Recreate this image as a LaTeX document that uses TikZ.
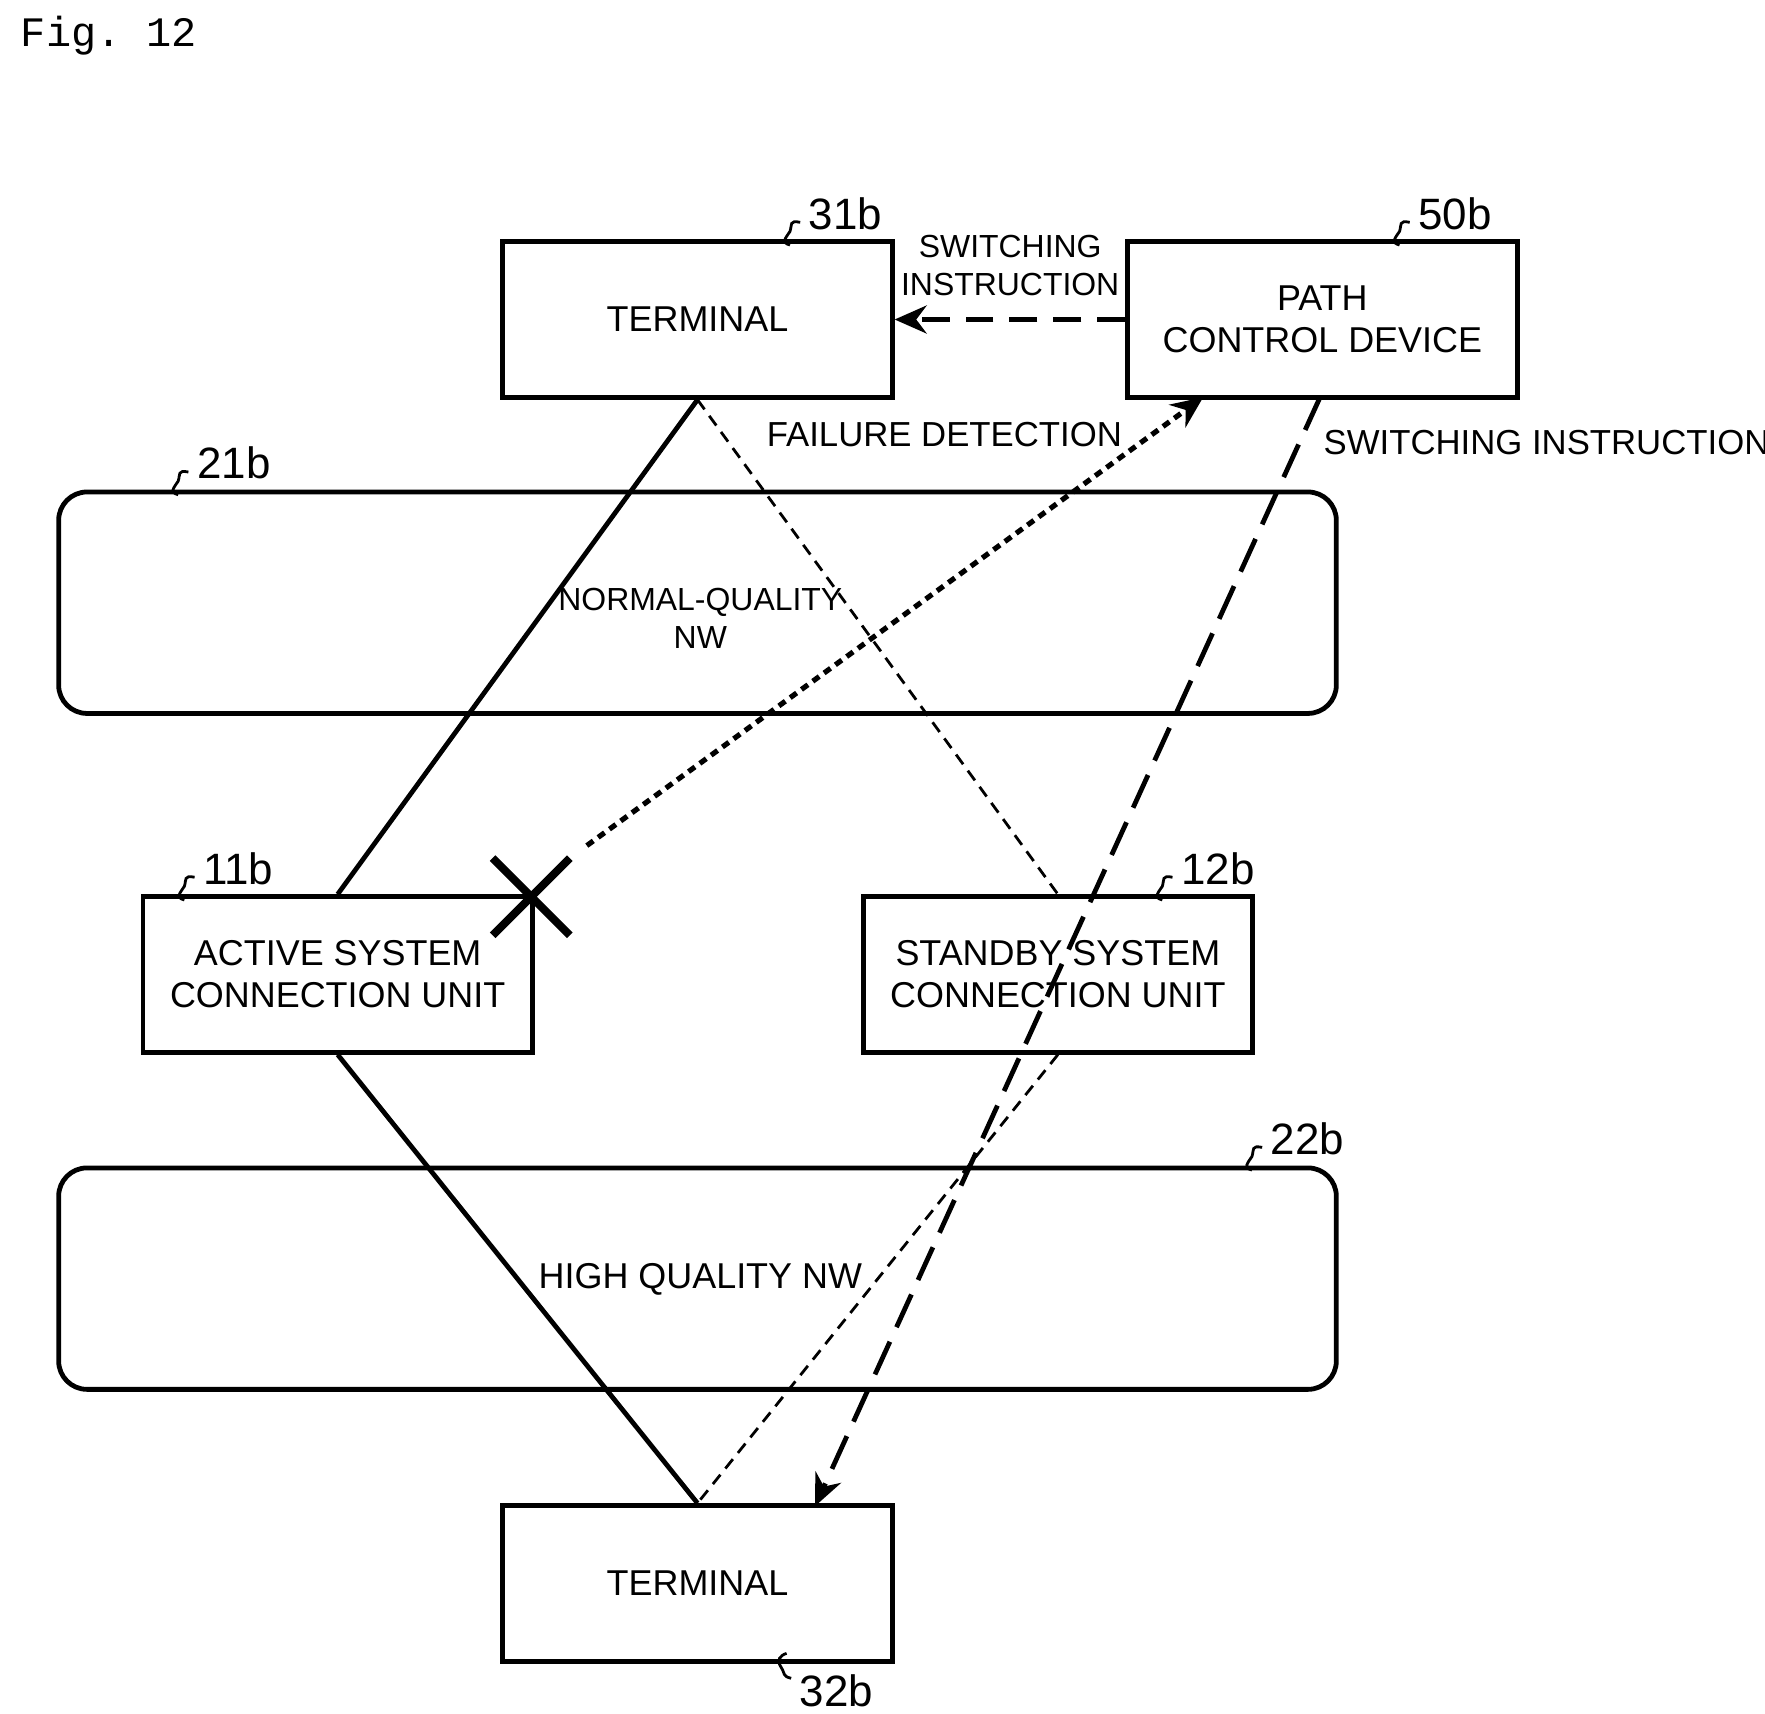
\documentclass[tikz,border=0pt]{standalone}
\usepackage{fontspec}
\setmainfont{Liberation Sans}
\setmonofont{Liberation Mono}
\usetikzlibrary{positioning}
\usetikzlibrary{arrows.meta}
\tikzset{
  box/.style={draw, line width=1.2pt, minimum width=3.43cm, minimum height=1.37cm,
    align=center, font=\fontsize{9}{10.5}\selectfont},
  nw/.style={draw, line width=1.2pt, rounded corners=0.25cm, minimum width=11.25cm,
    minimum height=1.95cm},
  ref/.style={font=\fontsize{11}{12}\selectfont, inner sep=1pt},
  lbl/.style={font=\fontsize{8}{9.5}\selectfont, align=center, inner sep=1pt},
}
\newcommand{\refmark}[1]{% squiggle before a reference label
  \draw[line width=0.7pt] ([xshift=-1pt,yshift=3pt]#1.south west)
    .. controls +(-10,-2) and +(2,-6) .. +(-9,8)
    .. controls +(-4,6) and +(-8,-2) .. +(-9,20);}
\begin{document}
\begin{tikzpicture}[x=0.01cm, y=-0.01cm]
  \useasboundingbox (0,0) rectangle (1555,1510);

  \node[anchor=north west, font=\ttfamily\fontsize{10.5}{12}\selectfont] (fig) at (6,2) {Fig. 12};

  % Define nodes
  \node[box] (term1) at (614.5,281.5) {TERMINAL};
  \node[box] (pcd) at (1165,281.5) {PATH\\CONTROL DEVICE};
  \node[nw] (nw21) at (614.5,531) {};
  \node[lbl] (nw21txt) at (617,545) {NORMAL-QUALITY\\NW};
  \node[box] (act) at (297.5,858.5) {ACTIVE SYSTEM\\CONNECTION UNIT};
  \node[box] (stby) at (932,858.5) {STANDBY SYSTEM\\CONNECTION UNIT};
  \node[nw] (nw22) at (614.5,1126.5) {};
  \node[lbl, font=\fontsize{9}{10.5}\selectfont] (nw22txt) at (617,1127) {HIGH QUALITY NW};
  \node[box] (term2) at (614.5,1395) {TERMINAL};

  % Reference labels
  \node[ref] (r31b) at (745,188) {31b};
  \node[ref] (r50b) at (1282,188) {50b};
  \node[ref] (r21b) at (206,408) {21b};
  \node[ref] (r11b) at (210,765) {11b};
  \node[ref] (r12b) at (1073,765) {12b};
  \node[ref] (r22b) at (1152,1003) {22b};
  \node[ref] (r32b) at (737,1490) {32b};
  \refmark{r31b}
  \refmark{r50b}
  \refmark{r21b}
  \refmark{r11b}
  \refmark{r12b}
  \refmark{r22b}
  \draw[line width=0.7pt] ([xshift=-1pt,yshift=-2pt]r32b.north west)
    .. controls +(-8,-2) and +(4,6) .. +(-9,-10)
    .. controls +(-4,-6) and +(-6,2) .. +(-4,-22);

  % Connect nodes
  \draw[line width=1.2pt] (term1.south) -- (act.north);
  \draw[line width=1.2pt] (act.south) -- (term2.north);
  \draw[dash pattern=on 3pt off 2pt, line width=0.7pt] (term1.south) -- (stby.north);
  \draw[dash pattern=on 3pt off 2pt, line width=0.7pt] (stby.south) -- (term2.north);

  \draw[-{Stealth[length=8pt,width=7pt]}, dash pattern=on 7pt off 4pt, line width=1.2pt]
    (pcd.west) -- (term1.east);
  \node[lbl] (sw1) at (890,234) {SWITCHING\\INSTRUCTION};

  \coordinate (fail) at (517,745);
  \coordinate (pcdin) at (1060,350);
  \draw[-{Stealth[length=8pt,width=7pt]}, dash pattern=on 2pt off 1.5pt, line width=1.3pt]
    (fail) -- (pcdin);
  \node[lbl, font=\fontsize{8.7}{10}\selectfont] (faillbl) at (832,383) {FAILURE DETECTION};

  \coordinate (pcdout) at (1163,350);
  \coordinate (t2in) at (718,1327);
  \draw[-{Stealth[length=8pt,width=7pt]}, dash pattern=on 9pt off 4pt, line width=1.2pt]
    (pcdout) -- (t2in);
  \node[lbl, font=\fontsize{8.7}{10}\selectfont, anchor=west] (sw2) at (1162,390) {SWITCHING INSTRUCTION};

  % Failure mark
  \node (xmark) at (468,790) {};
  \draw[line width=2pt] ([shift={(-34,-34)}]xmark.center) -- ([shift={(34,34)}]xmark.center);
  \draw[line width=2pt] ([shift={(-34,34)}]xmark.center) -- ([shift={(34,-34)}]xmark.center);

\end{tikzpicture}
\end{document}
